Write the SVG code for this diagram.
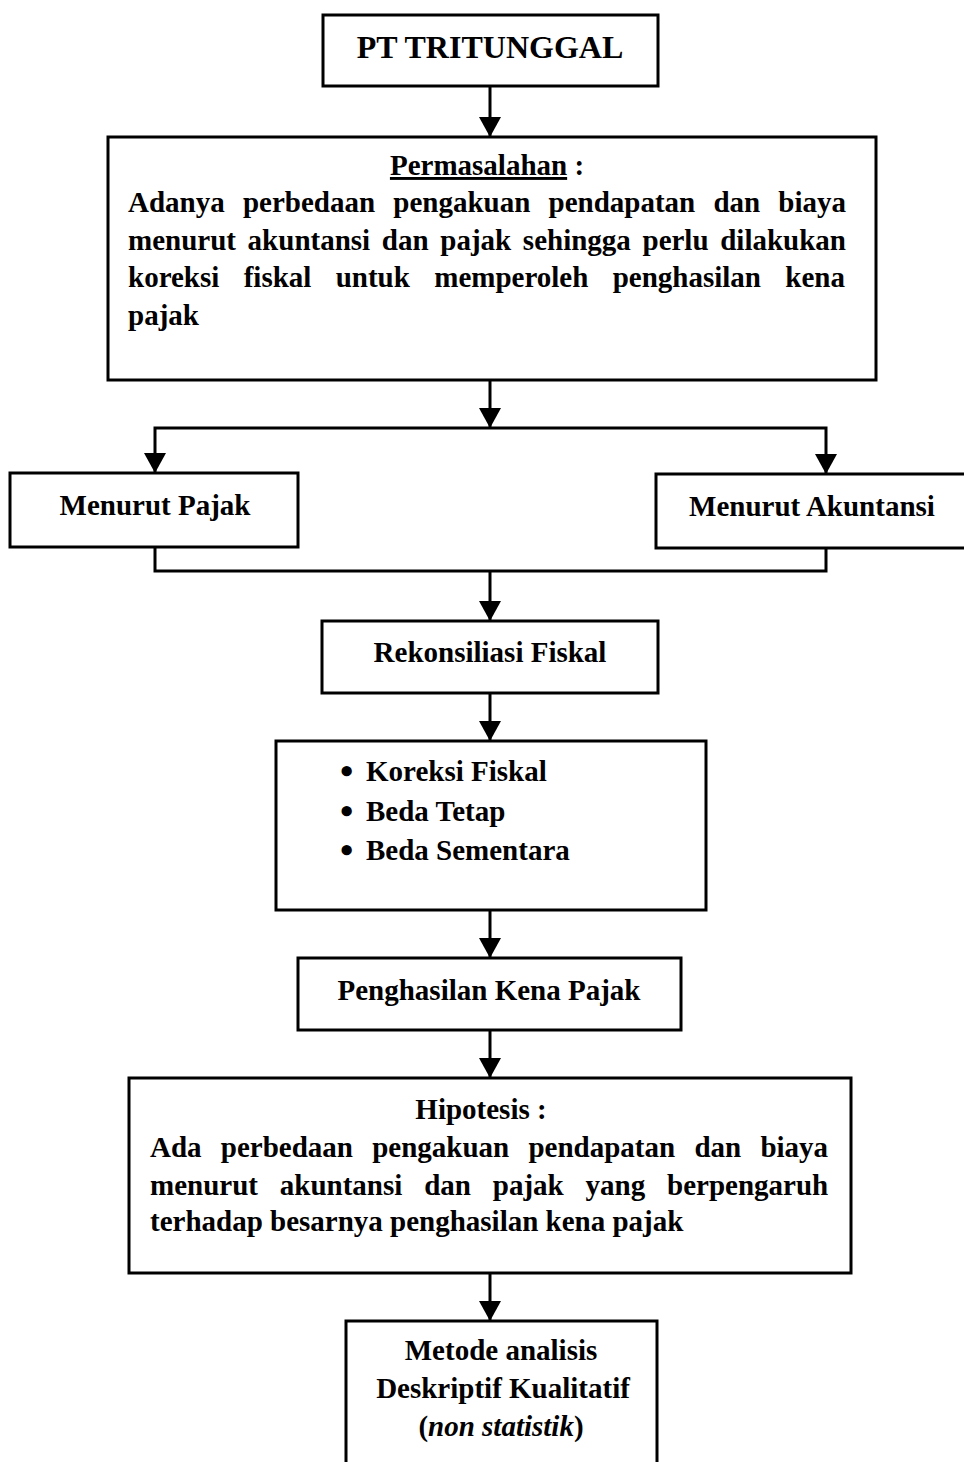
<svg xmlns="http://www.w3.org/2000/svg" width="964" height="1462" viewBox="0 0 964 1462">
<style>
.box{fill:#fff;stroke:#000;stroke-width:3}
.t{font-family:"Liberation Serif","Times New Roman",serif;font-weight:bold;font-size:29px;fill:#000}
.c{text-anchor:middle}
.b{font-size:38px}
.conn{fill:none;stroke:#000;stroke-width:3}
</style>
<defs>
<marker id="ah" markerUnits="userSpaceOnUse" markerWidth="20" markerHeight="22" viewBox="0 0 20 22" refX="20" refY="11" orient="auto">
<path d="M0,0 L20,11 L0,22 z" fill="#000"/>
</marker>
</defs>
<rect width="964" height="1462" fill="#fff"/>
<g id="connectors">
<path class="conn" d="M490,86 V137" marker-end="url(#ah)"/>
<path class="conn" d="M490,380 V428" marker-end="url(#ah)"/>
<path class="conn" d="M490,428 H155 V473" marker-end="url(#ah)"/>
<path class="conn" d="M490,428 H826 V474" marker-end="url(#ah)"/>
<path class="conn" d="M155,547 V571 H826 V548"/>
<path class="conn" d="M490,571 V621" marker-end="url(#ah)"/>
<path class="conn" d="M490,693 V741" marker-end="url(#ah)"/>
<path class="conn" d="M490,910 V958" marker-end="url(#ah)"/>
<path class="conn" d="M490,1030 V1078" marker-end="url(#ah)"/>
<path class="conn" d="M490,1273 V1321" marker-end="url(#ah)"/>
</g>
<g id="pt">
<rect class="box" x="323" y="15" width="335" height="71"/>
<text class="t c" x="490" y="58" style="font-size:32px">PT TRITUNGGAL</text>
</g>
<g id="permasalahan">
<rect class="box" x="108" y="137" width="768" height="243"/>
<text class="t c" x="487" y="175"><tspan text-decoration="underline">Permasalahan</tspan> :</text>
<text class="t" x="128" y="212" word-spacing="10.97">Adanya perbedaan pengakuan pendapatan dan biaya</text>
<text class="t" x="128" y="250" word-spacing="4.43">menurut akuntansi dan pajak sehingga perlu dilakukan</text>
<text class="t" x="128" y="287" word-spacing="17.1">koreksi fiskal untuk memperoleh penghasilan kena</text>
<text class="t" x="128" y="325">pajak</text>
</g>
<g id="menurut-pajak">
<rect class="box" x="10" y="473" width="288" height="74"/>
<text class="t c" x="155" y="515">Menurut Pajak</text>
</g>
<g id="menurut-akuntansi">
<rect class="box" x="656" y="474" width="320" height="74"/>
<text class="t c" x="812" y="516">Menurut Akuntansi</text>
</g>
<g id="rekonsiliasi">
<rect class="box" x="322" y="621" width="336" height="72"/>
<text class="t c" x="490" y="662">Rekonsiliasi Fiskal</text>
</g>
<g id="koreksi">
<rect class="box" x="276" y="741" width="430" height="169"/>
<text class="t b" x="340" y="784">•</text><text class="t" x="366" y="781">Koreksi Fiskal</text>
<text class="t b" x="340" y="824">•</text><text class="t" x="366" y="821">Beda Tetap</text>
<text class="t b" x="340" y="863">•</text><text class="t" x="366" y="860">Beda Sementara</text>
</g>
<g id="penghasilan">
<rect class="box" x="298" y="958" width="383" height="72"/>
<text class="t c" x="489" y="1000">Penghasilan Kena Pajak</text>
</g>
<g id="hipotesis">
<rect class="box" x="129" y="1078" width="722" height="195"/>
<text class="t c" x="481" y="1119">Hipotesis :</text>
<text class="t" x="150" y="1157" word-spacing="12">Ada perbedaan pengakuan pendapatan dan biaya</text>
<text class="t" x="150" y="1195" word-spacing="14.6">menurut akuntansi dan pajak yang berpengaruh</text>
<text class="t" x="150" y="1231">terhadap besarnya penghasilan kena pajak</text>
</g>
<g id="metode">
<rect class="box" x="346" y="1321" width="311" height="160"/>
<text class="t c" x="501" y="1360">Metode analisis</text>
<text class="t c" x="503" y="1398">Deskriptif Kualitatif</text>
<text class="t c" x="501" y="1436">(<tspan font-style="italic">non statistik</tspan>)</text>
</g>
</svg>
